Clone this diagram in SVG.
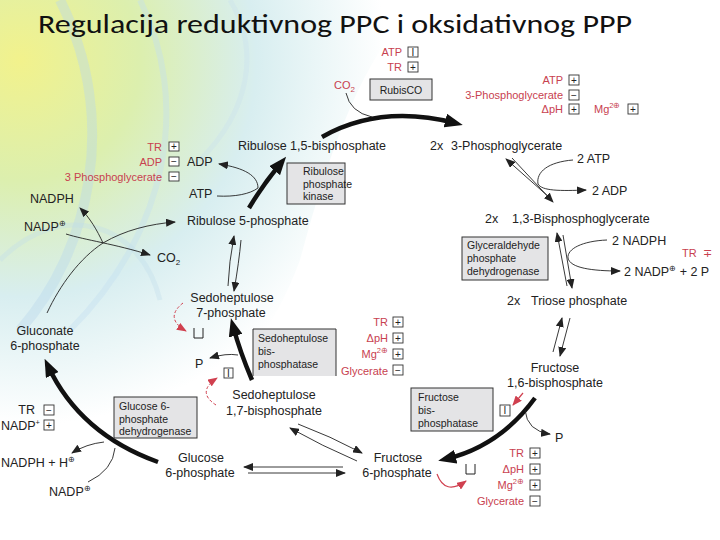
<svg xmlns="http://www.w3.org/2000/svg" width="720" height="540" viewBox="0 0 720 540">
<defs>
<radialGradient id="bg" cx="20" cy="60" r="430" gradientUnits="userSpaceOnUse">
<stop offset="0" stop-color="#f2f28c"/>
<stop offset="0.28" stop-color="#dcefae"/>
<stop offset="0.55" stop-color="#d8eef0"/>
<stop offset="0.85" stop-color="#ffffff"/>
</radialGradient>
<marker id="ah" markerUnits="userSpaceOnUse" markerWidth="10" markerHeight="8" refX="9" refY="4" orient="auto">
<path d="M0,0 L10,4 L0,8 z" fill="#222"/>
</marker>
<marker id="ahr" markerUnits="userSpaceOnUse" markerWidth="10" markerHeight="8" refX="9" refY="4" orient="auto">
<path d="M0,0 L10,4 L0,8 z" fill="#d0404f"/>
</marker>
<marker id="ahb" markerUnits="userSpaceOnUse" markerWidth="18" markerHeight="14" refX="10" refY="7" orient="auto">
<path d="M0,0 L18,7 L0,14 z" fill="#111"/>
</marker>
<style>
.t{font-family:"Liberation Sans",Arial,sans-serif;font-size:12.5px;fill:#222}
.r{font-family:"Liberation Sans",Arial,sans-serif;font-size:11px;fill:#c8414f}
.bx{font-family:"Liberation Sans",Arial,sans-serif;font-size:10.5px;fill:#222}
.enz{fill:#e4e4e6;stroke:#333;stroke-width:1}
.sb{fill:#fff;stroke:#333;stroke-width:0.9}
.sg{font-family:"Liberation Sans",Arial,sans-serif;font-size:10px;fill:#222;text-anchor:middle}
.thin{fill:none;stroke:#222;stroke-width:0.9}
.thick{fill:none;stroke:#111;stroke-width:4.5}
.red{fill:none;stroke:#d0404f;stroke-width:1;stroke-dasharray:3,2}
.redS{fill:none;stroke:#d0404f;stroke-width:1.2}
</style>
</defs>
<rect width="720" height="540" fill="#fff"/>
<g id="background">
<path d="M0,0 H420 C360,60 330,150 300,260 C270,340 230,390 150,420 C90,440 40,440 0,430 Z" fill="url(#bg)"/>
<path d="M60,0 C120,120 90,250 20,330" fill="none" stroke="#b9d7ec" stroke-width="10" opacity="0.4"/>
<path d="M140,0 C190,100 170,230 70,330" fill="none" stroke="#c3dff0" stroke-width="6" opacity="0.4"/>
<path d="M0,260 C60,200 140,220 160,300" fill="none" stroke="#bfdcec" stroke-width="5" opacity="0.35"/>
<path d="M230,0 C260,50 250,110 200,160" fill="none" stroke="#c6dff0" stroke-width="5" opacity="0.3"/>
</g>
<rect x="198" y="376" width="212" height="46" fill="#fff"/>
<text x="38" y="33" font-family="Carlito,'Liberation Sans',sans-serif" font-size="27" fill="#111" textLength="594" lengthAdjust="spacingAndGlyphs">Regulacija reduktivnog PPC i oksidativnog PPP</text>

<g id="connectors">
<path class="thick" d="M322,137 Q380,104 455,123" marker-end="url(#ahb)"/>
<path class="thick" d="M249,208 Q262,186 281,163" marker-end="url(#ahb)"/>
<path class="thick" d="M535,398 Q500,446 446,459" marker-end="url(#ahb)"/>
<path class="thick" d="M252,380 Q240,352 233,326" marker-end="url(#ahb)"/>
<path class="thick" d="M158,462 Q80,434 48,366" marker-end="url(#ahb)"/>
<path class="thin" d="M346,93 Q350,112 372,117"/>
<path class="thin" d="M550,198 L506,159" marker-end="url(#ah)"/>
<path class="thin" d="M512,158 L553,202" marker-end="url(#ah)"/>
<path class="thin" d="M573,160 C548,162 536,172 538,184 C542,191 560,191 586,190" marker-end="url(#ah)"/>
<path class="thin" d="M567,286 L557,233" marker-end="url(#ah)"/>
<path class="thin" d="M563,235 L572,288" marker-end="url(#ah)"/>
<path class="thin" d="M607,240 C582,241 567,249 568,258 C570,268 592,271 620,271" marker-end="url(#ah)"/>
<path class="thin" d="M553,352 L562,318" marker-end="url(#ah)"/>
<path class="thin" d="M570,318 L560,356" marker-end="url(#ah)"/>
<path class="thin" d="M525,410 Q527,431 550,434" marker-end="url(#ah)"/>
<path class="redS" d="M523,393 L513,405" marker-end="url(#ahr)"/>
<path class="redS" d="M437,474 Q445,496 466,481" marker-end="url(#ahr)"/>
<path class="thin" d="M298,424 Q330,436 362,453" marker-end="url(#ah)"/>
<path class="thin" d="M357,461 Q322,446 290,428" marker-end="url(#ah)"/>
<path class="thin" d="M343,467 L244,467" marker-end="url(#ah)"/>
<path class="thin" d="M248,473 L345,473" marker-end="url(#ah)"/>
<path class="thin" d="M238,355 Q226,353 210,358" marker-end="url(#ah)"/>
<path class="red" d="M216,405 Q196,392 217,378" marker-end="url(#ahr)"/>
<path class="red" d="M183,303 Q164,318 186,331" marker-end="url(#ahr)"/>
<path class="thin" d="M228,286 Q229,262 234,236" marker-end="url(#ah)"/>
<path class="thin" d="M241,240 Q239,262 234,291" marker-end="url(#ah)"/>
<path class="thin" d="M217,196 C235,197 250,194 258,188"/>
<path class="thin" d="M258,188 C258,176 245,168 219,164" marker-end="url(#ah)"/>
<path class="thin" d="M47,313 C60,285 80,258 103,243 C125,230 150,224 175,222" marker-end="url(#ah)"/>
<path class="thin" d="M66,234 C85,240 115,244 150,255" marker-end="url(#ah)"/>
<path class="thin" d="M103,243 C97,230 90,218 80,208" marker-end="url(#ah)"/>
<path class="thin" d="M104,442 Q86,444 72,453" marker-end="url(#ah)"/>
<path class="thin" d="M88,482 Q113,470 115,448"/>
</g>

<g id="rubisco">
<rect class="enz" x="370" y="79" width="62" height="21"/>
<text class="bx" x="401" y="94" text-anchor="middle" font-size="11">RubisCO</text>
<text class="r" x="402" y="56" text-anchor="end">ATP</text>
<rect class="sb" x="408" y="47" width="10" height="10"/><text class="sg" x="413" y="55.5" font-size="8">I</text>
<text class="r" x="402" y="71" text-anchor="end">TR</text>
<rect class="sb" x="408" y="62" width="10" height="10"/><text class="sg" x="413" y="71">+</text>
<text class="r" x="334" y="89" font-size="12">CO<tspan font-size="8" dy="3">2</tspan></text>
</g>
<g id="rubisco-regulators">
<text class="r" x="563" y="84" text-anchor="end">ATP</text>
<rect class="sb" x="569" y="75" width="10" height="10"/><text class="sg" x="574" y="84">+</text>
<text class="r" x="563" y="99" text-anchor="end">3-Phosphoglycerate</text>
<rect class="sb" x="569" y="90" width="10" height="10"/><text class="sg" x="574" y="98.5">−</text>
<text class="r" x="563" y="113" text-anchor="end">ΔpH</text>
<rect class="sb" x="569" y="104" width="10" height="10"/><text class="sg" x="574" y="113">+</text>
<text class="r" x="594" y="113">Mg<tspan font-size="7.5" dy="-5">2⊕</tspan></text>
<rect class="sb" x="628" y="104" width="10" height="10"/><text class="sg" x="633" y="113">+</text>
</g>

<g id="rubp"><text class="t" x="238" y="150">Ribulose 1,5-bisphosphate</text></g>
<g id="pga"><text class="t" x="430" y="150">2x</text><text class="t" x="451" y="150">3-Phosphoglycerate</text></g>
<g id="atp2"><text class="t" x="577" y="163">2 ATP</text></g>
<g id="adp2"><text class="t" x="592" y="195">2 ADP</text></g>
<g id="bpg"><text class="t" x="485" y="223">2x</text><text class="t" x="512" y="223">1,3-Bisphosphoglycerate</text></g>
<g id="nadph2"><text class="t" x="612" y="245">2 NADPH</text></g>
<g id="nadp2"><text class="t" x="624" y="276">2 NADP<tspan font-size="8" dy="-5">⊕</tspan><tspan dy="5"> + 2 P</tspan></text></g>
<g id="tr-right"><text class="r" x="682" y="257" font-size="12">TR</text><text class="r" x="703" y="257" font-size="12">∓</text></g>
<g id="gapdh">
<rect class="enz" x="462" y="237" width="86" height="43"/>
<text class="bx" x="467" y="249">Glyceraldehyde</text>
<text class="bx" x="467" y="262">phosphate</text>
<text class="bx" x="467" y="275">dehydrogenase</text>
</g>
<g id="triose"><text class="t" x="507" y="305">2x</text><text class="t" x="531" y="305">Triose phosphate</text></g>
<g id="fbp"><text class="t" x="555" y="372" text-anchor="middle">Fructose</text><text class="t" x="555" y="387" text-anchor="middle">1,6-bisphosphate</text></g>
<g id="fbpase">
<rect class="enz" x="411" y="388" width="82" height="43"/>
<text class="bx" x="418" y="401">Fructose</text>
<text class="bx" x="418" y="414">bis-</text>
<text class="bx" x="418" y="427">phosphatase</text>
<rect class="sb" x="500" y="405" width="10" height="11"/><text class="sg" x="505" y="414" font-size="8" fill="#c8414f">I</text>
</g>
<g id="p-fbp"><text class="t" x="555" y="442" fill="#7a6a5a">P</text></g>
<g id="f6p"><text class="t" x="398" y="462" text-anchor="middle">Fructose</text><text class="t" x="397" y="477" text-anchor="middle">6-phosphate</text>
<path d="M466,464 V474 H475 V464" fill="none" stroke="#222" stroke-width="1"/>
</g>
<g id="fbpase-regulators">
<text class="r" x="524" y="457" text-anchor="end">TR</text>
<rect class="sb" x="530" y="448" width="10" height="10"/><text class="sg" x="535" y="457">+</text>
<text class="r" x="524" y="473" text-anchor="end">ΔpH</text>
<rect class="sb" x="530" y="464" width="10" height="10"/><text class="sg" x="535" y="473">+</text>
<text class="r" x="524" y="489" text-anchor="end">Mg<tspan font-size="7.5" dy="-5">2⊕</tspan></text>
<rect class="sb" x="530" y="480" width="10" height="10"/><text class="sg" x="535" y="489">+</text>
<text class="r" x="524" y="505" text-anchor="end">Glycerate</text>
<rect class="sb" x="530" y="496" width="10" height="10"/><text class="sg" x="535" y="504.5">−</text>
</g>
<g id="g6p"><text class="t" x="201" y="462" text-anchor="middle">Glucose</text><text class="t" x="200" y="477" text-anchor="middle">6-phosphate</text></g>
<g id="sbp"><text class="t" x="274" y="399" text-anchor="middle">Sedoheptulose</text><text class="t" x="274" y="415" text-anchor="middle">1,7-bisphosphate</text></g>
<g id="sbpase">
<path class="enz" d="M253,376 V329 H336 V376"/>
<text class="bx" x="258" y="342">Sedoheptulose</text>
<text class="bx" x="258" y="355">bis-</text>
<text class="bx" x="258" y="368">phosphatase</text>
<rect class="sb" x="224" y="368" width="9" height="10"/><text class="sg" x="228.5" y="376.5" font-size="8" fill="#c8414f">I</text>
</g>
<g id="p-sbp"><text class="t" x="195" y="368">P</text></g>
<g id="sbpase-regulators">
<text class="r" x="388" y="326" text-anchor="end">TR</text>
<rect class="sb" x="393" y="317" width="10" height="10"/><text class="sg" x="398" y="326">+</text>
<text class="r" x="388" y="342" text-anchor="end">ΔpH</text>
<rect class="sb" x="393" y="333" width="10" height="10"/><text class="sg" x="398" y="342">+</text>
<text class="r" x="388" y="358" text-anchor="end">Mg<tspan font-size="7.5" dy="-5">2⊕</tspan></text>
<rect class="sb" x="393" y="349" width="10" height="10"/><text class="sg" x="398" y="358">+</text>
<text class="r" x="388" y="375" text-anchor="end">Glycerate</text>
<rect class="sb" x="393" y="365" width="10" height="10"/><text class="sg" x="398" y="373.5">−</text>
</g>
<g id="s7p"><text class="t" x="232" y="302" text-anchor="middle">Sedoheptulose</text><text class="t" x="231" y="317" text-anchor="middle">7-phosphate</text>
<path d="M194,328 V338 H203 V328" fill="none" stroke="#222" stroke-width="1"/>
</g>
<g id="ru5p"><text class="t" x="187" y="225">Ribulose 5-phosphate</text></g>
<g id="atp"><text class="t" x="189" y="198">ATP</text></g>
<g id="adp"><text class="t" x="187" y="166">ADP</text></g>
<g id="prk">
<rect class="enz" x="287" y="163" width="58" height="41"/>
<text class="bx" x="303" y="175">Ribulose</text>
<text class="bx" x="303" y="188">phosphate</text>
<text class="bx" x="303" y="200">kinase</text>
</g>
<g id="prk-regulators">
<text class="r" x="162" y="151" text-anchor="end">TR</text>
<rect class="sb" x="169" y="142" width="10" height="9"/><text class="sg" x="174" y="150">+</text>
<text class="r" x="162" y="166" text-anchor="end">ADP</text>
<rect class="sb" x="169" y="157" width="10" height="9"/><text class="sg" x="174" y="165">−</text>
<text class="r" x="162" y="181" text-anchor="end">3 Phosphoglycerate</text>
<rect class="sb" x="169" y="172" width="10" height="9"/><text class="sg" x="174" y="180">−</text>
</g>
<g id="nadph"><text class="t" x="30" y="203">NADPH</text></g>
<g id="nadp"><text class="t" x="24" y="231">NADP<tspan font-size="8" dy="-5">⊕</tspan></text></g>
<g id="co2"><text class="t" x="157" y="262">CO<tspan font-size="8" dy="3">2</tspan></text></g>
<g id="gluconate"><text class="t" x="45" y="335" text-anchor="middle">Gluconate</text><text class="t" x="45" y="350" text-anchor="middle">6-phosphate</text></g>
<g id="g6pdh">
<rect class="enz" x="114" y="397" width="83" height="41"/>
<text class="bx" x="119" y="410">Glucose 6-</text>
<text class="bx" x="119" y="423">phosphate</text>
<text class="bx" x="119" y="435">dehydrogenase</text>
</g>
<g id="g6pdh-regulators">
<text class="t" x="35" y="414" text-anchor="end" font-size="12">TR</text>
<rect class="sb" x="44" y="405" width="10" height="10"/><text class="sg" x="49" y="413.5">−</text>
<text class="t" x="40" y="430" text-anchor="end" font-size="12">NADP<tspan font-size="7.5" dy="-5">+</tspan></text>
<rect class="sb" x="44" y="420" width="10" height="10" stroke="#c8414f"/><text class="sg" x="49" y="429" fill="#c8414f">+</text>
</g>
<g id="nadph-h"><text class="t" x="1" y="467" font-size="12">NADPH + H<tspan font-size="8" dy="-5">⊕</tspan></text></g>
<g id="nadp-ox"><text class="t" x="49" y="496">NADP<tspan font-size="8" dy="-5">⊕</tspan></text></g>
</svg>
